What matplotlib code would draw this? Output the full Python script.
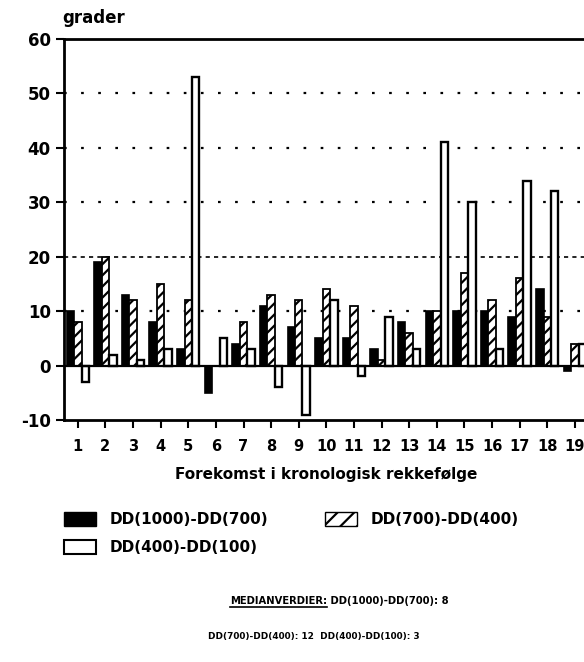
import numpy as np
import matplotlib
matplotlib.use("Agg")
import matplotlib.pyplot as plt
from matplotlib.patches import Patch
from matplotlib.lines import Line2D

plt.rcParams['font.family'] = ['DejaVu Sans']
plt.rcParams['font.weight'] = 'bold'
plt.rcParams['hatch.linewidth'] = 1.6
plt.rcParams['axes.unicode_minus'] = False

## data
forekomst = list(range(1, 20))
dd1000_700 = [10, 19, 13, 8, 3, -5, 4, 11, 7, 5, 5, 3, 8, 10, 10, 10, 9, 14, -1]
dd700_400 = [8, 20, 12, 15, 12, 0, 8, 13, 12, 14, 11, 1, 6, 10, 17, 12, 16, 9, 4]
dd400_100 = [-3, 2, 1, 3, 53, 5, 3, -4, -9, 12, -2, 9, 3, 41, 30, 3, 34, 32, 4]
serie_navn = ["DD(1000)-DD(700)", "DD(700)-DD(400)", "DD(400)-DD(100)"]
yticks = [-10, 0, 10, 20, 30, 40, 50, 60]

fig = plt.figure(figsize=(5.84, 6.62), dpi=100)
ax = fig.add_axes([64/584, 1 - 420/662, 1 - 64/584, (420 - 39)/662])

x = np.array(forekomst)
w = 0.27
ax.bar(x - w, dd1000_700, w, color="black", edgecolor="black", linewidth=1.2, zorder=3)
ax.bar(x, dd700_400, w, color="white", edgecolor="black", hatch="///", linewidth=1.3, zorder=3)
ax.bar(x + w, dd400_100, w, color="white", edgecolor="black", linewidth=1.7, zorder=3)

# grid lines
for g in [10, 30, 40, 50]:
    ax.axhline(g, color="black", linestyle=(0, (1.2, 6.5)), linewidth=1.6, zorder=1)
ax.axhline(20, color="black", linestyle=(0, (2.5, 2.5)), linewidth=1.2, zorder=1)
ax.axhline(0, color="black", linewidth=1.6, zorder=4)

ax.set_xlim(0.5, 19.33)
ax.set_ylim(-10, 60)
ax.set_yticks(yticks)
ax.set_xticks(forekomst)
ax.tick_params(axis="both", direction="out", length=6, width=1.5)
ax.tick_params(axis="y", labelsize=12)
ax.tick_params(axis="x", labelsize=10.5, pad=8)
ax.spines["right"].set_visible(False)
for s in ["left", "top", "bottom"]:
    ax.spines[s].set_linewidth(2)
for lab in ax.get_xticklabels() + ax.get_yticklabels():
    lab.set_fontweight("bold")

fig.text(62/584, 1 - 18/662, "grader", fontsize=12, fontweight="bold", va="center")
fig.text(326/584, 1 - 474/662, "Forekomst i kronologisk rekkefølge", fontsize=11,
         fontweight="bold", ha="center", va="center")

# legend
handles = [Patch(facecolor="black", edgecolor="black"),
           Patch(facecolor="white", edgecolor="black", linewidth=1.5),
           Patch(facecolor="white", edgecolor="black", hatch="//")]
labels = [serie_navn[0], serie_navn[2], serie_navn[1]]
fig.legend(handles, labels, ncol=2, loc="upper left", bbox_to_anchor=(64/584, 1 - 512/662),
           frameon=False, handlelength=2.1, handleheight=1.0, handletextpad=0.9,
           columnspacing=3.7, labelspacing=0.85, borderpad=0, borderaxespad=0,
           prop={"weight": "bold", "size": 11})

# median text
t1 = fig.text(230/584, 1 - 601/662, "MEDIANVERDIER:", fontsize=7.2, fontweight="bold", va="center")
fig.canvas.draw()
r = fig.canvas.get_renderer()
bb = t1.get_window_extent(r).transformed(fig.transFigure.inverted())
fig.text(bb.x1, 1 - 601/662, " DD(1000)-DD(700): 8", fontsize=7.2, fontweight="bold", va="center")
fig.add_artist(Line2D([bb.x0, bb.x1], [bb.y0 - 0.001, bb.y0 - 0.001], color="black",
                      linewidth=1.2, transform=fig.transFigure))
fig.text(314/584, 1 - 636/662, "DD(700)-DD(400): 12  DD(400)-DD(100): 3", fontsize=6.4,
         fontweight="bold", ha="center", va="center")

fig.savefig("out.png", dpi=100)
